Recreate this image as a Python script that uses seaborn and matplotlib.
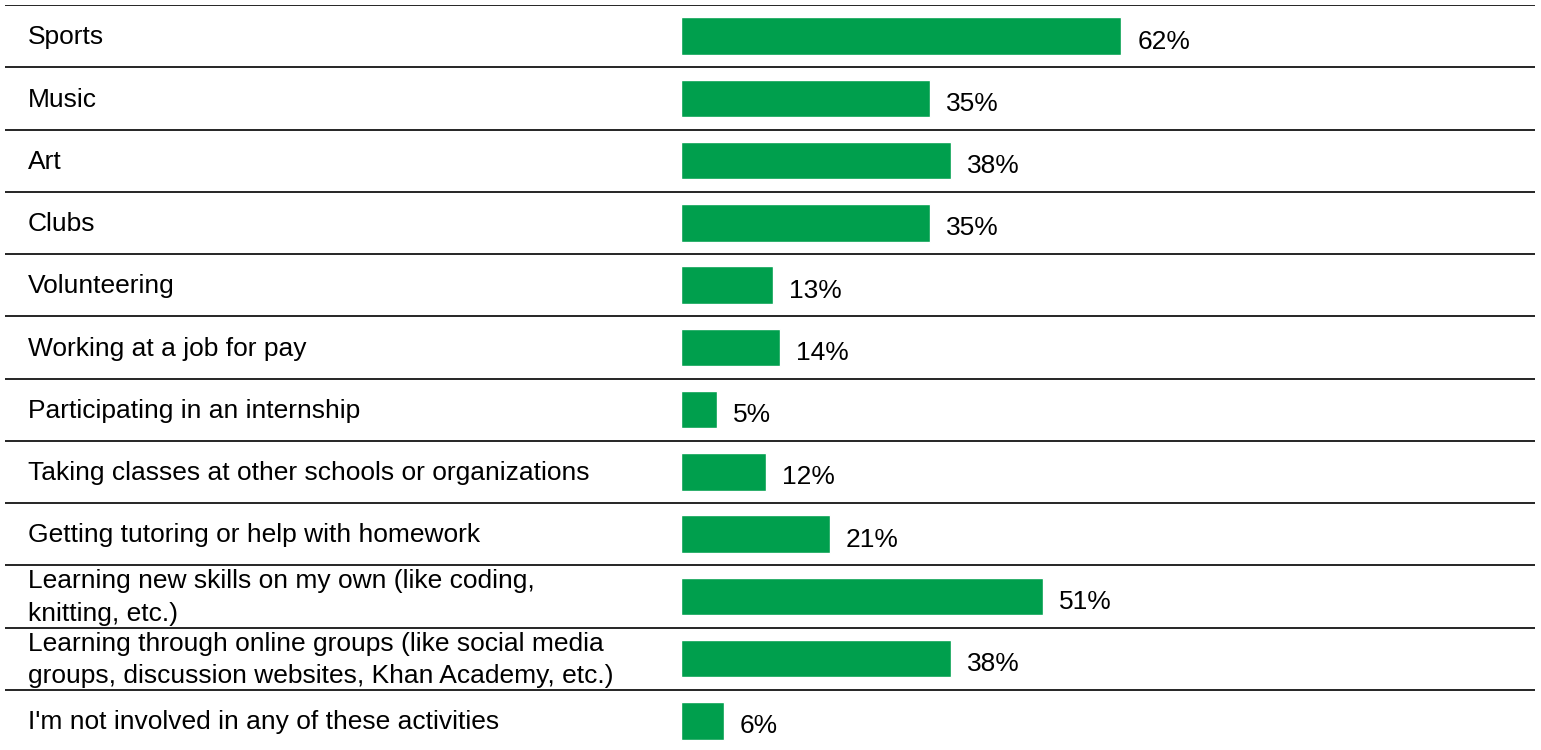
import seaborn as sns
import matplotlib.pyplot as plt
import pandas as pd

activities = [
    "Sports",
    "Music",
    "Art",
    "Clubs",
    "Volunteering",
    "Working at a job for pay",
    "Participating in an internship",
    "Taking classes at other schools or organizations",
    "Getting tutoring or help with homework",
    "Learning new skills on my own (like coding,\nknitting, etc.)",
    "Learning through online groups (like social media\ngroups, discussion websites, Khan Academy, etc.)",
    "I'm not involved in any of these activities",
]
percents = [62, 35, 38, 35, 13, 14, 5, 12, 21, 51, 38, 6]

df = pd.DataFrame({"activity": activities, "pct": percents})

sns.set_style("white")
plt.rcParams["font.family"] = ["Liberation Sans", "DejaVu Sans"]
plt.rcParams["text.color"] = "black"

fig = plt.figure(figsize=(15.41, 7.5), dpi=100)
# axes spans full row width; 0% sits at x=681 px, ~7.1 px per percent
W, H = 1541, 750
ax = fig.add_axes([5 / W, 1 - 752 / H, 1530 / W, 747 / H])

sns.barplot(data=df, x="pct", y="activity", orient="h", color="#009f4d",
            saturation=1, width=0.6, ax=ax)

px_per_pct = 7.1
x0 = -(681 - 5) / px_per_pct
ax.set_xlim(x0, x0 + 1530 / px_per_pct)
ax.set_ylim(len(activities) - 0.5, -0.5)

for i, (lab, v) in enumerate(zip(activities, percents)):
    ax.axhline(i - 0.5, color="black", lw=1.2, zorder=3)
    ax.text(23 / 1530, i + 0.02, lab, transform=ax.get_yaxis_transform(),
            ha="left", va="center", fontsize=19, linespacing=1.45,
            color="black")
    ax.text(v + 16 / px_per_pct, i + 0.09, f"{v}%", ha="left", va="center",
            fontsize=19, color="black")

ax.set_xlabel("")
ax.set_ylabel("")
ax.set_xticks([])
ax.set_yticks([])
sns.despine(ax=ax, left=True, bottom=True)

fig.savefig("out.png", dpi=100)
